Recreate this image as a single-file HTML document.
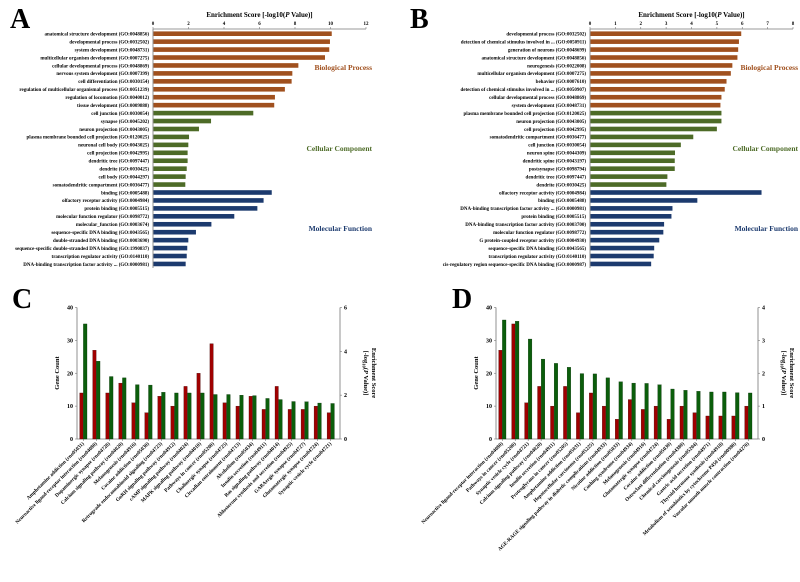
<!DOCTYPE html>
<html><head><meta charset="utf-8"><style>
body{margin:0;background:#fff}
svg text{font-family:"Liberation Serif",serif;font-weight:bold}
</style></head><body>
<svg id="fig" width="800" height="577" xmlns="http://www.w3.org/2000/svg">
<text x="10" y="28" font-size="28">A</text>
<text x="410" y="28" font-size="28">B</text>
<text x="12" y="308" font-size="28">C</text>
<text x="452" y="308" font-size="28">D</text>
</svg>
<script>
const aLabels=["anatomical structure development (GO:0048856)","developmental process (GO:0032502)","system development (GO:0048731)","multicellular organism development (GO:0007275)","cellular developmental process (GO:0048869)","nervous system development (GO:0007399)","cell differentiation (GO:0030154)","regulation of multicellular organismal process (GO:0051239)","regulation of locomotion (GO:0040012)","tissue development (GO:0009888)","cell junction (GO:0030054)","synapse (GO:0045202)","neuron projection (GO:0043005)","plasma membrane bounded cell projection (GO:0120025)","neuronal cell body (GO:0043025)","cell projection (GO:0042995)","dendritic tree (GO:0097447)","dendrite (GO:0030425)","cell body (GO:0044297)","somatodendritic compartment (GO:0036477)","binding (GO:0005488)","olfactory receptor activity (GO:0004984)","protein binding (GO:0005515)","molecular function regulator (GO:0098772)","molecular_function (GO:0003674)","sequence-specific DNA binding (GO:0043565)","double-stranded DNA binding (GO:0003690)","sequence-specific double-stranded DNA binding (GO:1990837)","transcription regulator activity (GO:0140110)","DNA-binding transcription factor activity ... (GO:0000981)"];
const aValues=[10.07,9.97,9.93,9.69,8.19,7.85,7.81,7.43,6.87,6.83,5.65,3.27,2.59,2.03,1.99,1.95,1.95,1.9,1.84,1.82,6.69,6.23,5.88,4.58,3.29,2.42,1.99,1.93,1.9,1.84];
const aTicks=[0,2,4,6,8,10,12];
const bLabels=["developmental process (GO:0032502)","detection of chemical stimulus involved in ... (GO:0050911)","generation of neurons (GO:0048699)","anatomical structure development (GO:0048856)","neurogenesis (GO:0022008)","multicellular organism development (GO:0007275)","behavior (GO:0007610)","detection of chemical stimulus involved in ... (GO:0050907)","cellular developmental process (GO:0048869)","system development (GO:0048731)","plasma membrane bounded cell projection (GO:0120025)","neuron projection (GO:0043005)","cell projection (GO:0042995)","somatodendritic compartment (GO:0036477)","cell junction (GO:0030054)","neuron spine (GO:0044309)","dendritic spine (GO:0043197)","postsynapse (GO:0098794)","dendritic tree (GO:0097447)","dendrite (GO:0030425)","olfactory receptor activity (GO:0004984)","binding (GO:0005488)","DNA-binding transcription factor activity ... (GO:0000981)","protein binding (GO:0005515)","DNA-binding transcription factor activity (GO:0003700)","molecular function regulator (GO:0098772)","G protein-coupled receptor activity (GO:0004930)","sequence-specific DNA binding (GO:0043565)","transcription regulator activity (GO:0140110)","cis-regulatory region sequence-specific DNA binding (GO:0000987)"];
const bValues=[5.96,5.87,5.84,5.81,5.61,5.55,5.38,5.31,5.18,5.14,5.18,5.18,5.0,4.07,3.58,3.35,3.34,3.34,3.05,3.01,6.76,4.23,3.25,3.21,2.92,2.89,2.73,2.53,2.51,2.41];
const bTicks=[0,1,2,3,4,5,6,7,8];
const cLabels=["Amphetamine addiction (rno05031)","Neuroactive ligand-receptor interaction (rno04080)","Dopaminergic synapse (rno04728)","Calcium signaling pathway (rno04020)","Melanogenesis (rno04916)","Cocaine addiction (rno05030)","Retrograde endocannabinoid signaling (rno04723)","GnRH signaling pathway (rno04912)","cAMP signaling pathway (rno04024)","MAPK signaling pathway (rno04010)","Pathways in cancer (rno05200)","Cholinergic synapse (rno04725)","Circadian entrainment (rno04713)","Alcoholism (rno05034)","Insulin secretion (rno04911)","Ras signaling pathway (rno04014)","Aldosterone synthesis and secretion (rno04925)","GABAergic synapse (rno04727)","Glutamatergic synapse (rno04724)","Synaptic vesicle cycle (rno04721)"];
const cCounts=[14,27,14,17,11,8,13,10,16,20,29,11,10,13,9,16,9,9,10,8];
const cScores=[5.25,3.55,2.85,2.79,2.48,2.46,2.13,2.1,2.1,2.1,2.03,2.03,2.0,1.98,1.85,1.8,1.71,1.7,1.64,1.62];
const cLeftTicks=[0,10,20,30,40];
const cRightTicks=[0,2,4,6];
const dLabels=["Neuroactive ligand-receptor interaction (rno04080)","Pathways in cancer (rno05200)","Synaptic vesicle cycle (rno04721)","Calcium signaling pathway (rno04020)","Insulin secretion (rno04911)","Proteoglycans in cancer (rno05205)","Amphetamine addiction (rno05031)","Hepatocellular carcinoma (rno05225)","AGE-RAGE signaling pathway in diabetic complications (rno04933)","Nicotine addiction (rno05033)","Cushing syndrome (rno04934)","Melanogenesis (rno04916)","Glutamatergic synapse (rno04724)","Cocaine addiction (rno05030)","Osteoclast differentiation (rno04380)","Chemical carcinogenesis (rno05204)","Gastric acid secretion (rno04971)","Thyroid hormone synthesis (rno04918)","Metabolism of xenobiotics by cytochrome P450 (rno00980)","Vascular smooth muscle contraction (rno04270)"];
const dCounts=[27,35,11,16,10,16,8,14,10,6,12,9,10,6,10,8,7,7,7,10];
const dScores=[3.62,3.58,3.04,2.43,2.3,2.18,1.99,1.98,1.86,1.74,1.7,1.69,1.65,1.52,1.48,1.45,1.43,1.43,1.41,1.4];
const dLeftTicks=[0,10,20,30,40];
const dRightTicks=[0,1,2,3,4];

const svg=document.getElementById('fig');
const NS='http://www.w3.org/2000/svg';
function mk(tag,attrs,txt){const e=document.createElementNS(NS,tag);for(const k in attrs)e.setAttribute(k,attrs[k]);if(txt!==undefined)e.textContent=txt;svg.appendChild(e);return e;}
const COLS=['#a0501e','#4d6b27','#1c3a6e'];

function hbar(x0,x1,max,ticks,labels,values,pfx,groupX){
  const sx=v=>x0+(x1-x0)*v/max;
  const y0=33.7,step=7.94;
  let ax=mk('line',{x1:x0,y1:29,x2:x1,y2:29,stroke:'#777','stroke-width':0.8});
  
  
  let ay=mk('line',{x1:x0,y1:29,x2:x0,y2:268,stroke:'#777','stroke-width':0.8});
  
  
  ticks.forEach(t=>{
    mk('line',{x1:sx(t),y1:27,x2:sx(t),y2:29,stroke:'#777','stroke-width':0.6});
    let tl=mk('text',{x:sx(t),y:25,'font-size':5,'text-anchor':'middle'},t);
    
    
  });
  let tt=mk('text',{x:(x0+x1)/2,y:17,'font-size':7,'text-anchor':'middle'});
  tt.innerHTML='Enrichment Score [-log10(<tspan font-style="italic">P</tspan> Value)]';
  
  
  values.forEach((v,i)=>{
    const y=y0+i*step;
    const r=mk('rect',{x:x0+0.5,y:y-2.3,width:sx(v)-x0-0.5,height:4.6,fill:COLS[Math.floor(i/10)]});
    
    
    const l=mk('text',{x:x0-4,y:y+1.8,'font-size':5,'text-anchor':'end'},labels[i]);
    
    
  });
  const g=['Biological Process','Cellular Component','Molecular Function'];
  [70,151,231].forEach((y,k)=>{
    const t=mk('text',{x:groupX,y:y,'font-size':7.5,'text-anchor':'end',fill:COLS[k]},g[k]);
    
    
  });
}
hbar(153,366,12,aTicks,aLabels,aValues,'panel-a',372);
hbar(590,793,8,bTicks,bLabels,bValues,'panel-b',798);

function vbar(xl,xr,t0,t1,rmax,labels,counts,scores,lt,rt,pfx,ltitleX,rtitleX){
  const yb=439,yt=307.5;
  const sy=v=>yb-(yb-yt)*v/40;
  const sr=v=>yb-(yb-yt)*v/rmax;
  const n=labels.length,step=(t1-t0)/(n-1);
  const cx=i=>t0+i*step;
  [[xl,'left'],[xr,'right']].forEach(([x,s])=>{
    const a=mk('line',{x1:x,y1:yt,x2:x,y2:yb,stroke:'#777','stroke-width':0.8});
    
    
  });
  const b=mk('line',{x1:xl,y1:yb,x2:xr,y2:yb,stroke:'#777','stroke-width':0.8});
  
  
  lt.forEach(t=>{mk('line',{x1:xl-2,y1:sy(t),x2:xl,y2:sy(t),stroke:'#777','stroke-width':0.6});
    const e=mk('text',{x:xl-4,y:sy(t)+2,'font-size':6,'text-anchor':'end'},t);
    
    });
  rt.forEach(t=>{mk('line',{x1:xr,y1:sr(t),x2:xr+2,y2:sr(t),stroke:'#777','stroke-width':0.6});
    const e=mk('text',{x:xr+4,y:sr(t)+2,'font-size':6},t);
    
    });
  const lt2=mk('text',{x:ltitleX,y:373,'font-size':6.5,'text-anchor':'middle',transform:`rotate(-90 ${ltitleX} 373)`},'Gene Count');
  
  
  const r1=mk('text',{x:rtitleX,y:373,'font-size':6.5,'text-anchor':'middle',transform:`rotate(90 ${rtitleX} 373)`},'Enrichment Score');
  
  
  const r2=mk('text',{x:rtitleX-8,y:373,'font-size':6.5,'text-anchor':'middle',transform:`rotate(90 ${rtitleX-8} 373)`});
  r2.innerHTML='[-log<tspan font-size="4.5" dy="1.5">10</tspan><tspan dy="-1.5">(</tspan><tspan font-style="italic">P</tspan> Value)]';
  
  
  for(let i=0;i<n;i++){
    const x=cx(i);
    mk('line',{x1:x,y1:yb,x2:x,y2:yb+2,stroke:'#777','stroke-width':0.6});
    const rr=mk('rect',{x:x-3.6,y:sy(counts[i]),width:3.4,height:yb-sy(counts[i]),fill:'#a00000',stroke:'#3a0000','stroke-width':0.3});
    
    
    const gg=mk('rect',{x:x+0.1,y:sr(scores[i]),width:3.6,height:yb-sr(scores[i]),fill:'#0b5e0b',stroke:'#032a03','stroke-width':0.3});
    
    
    const tx=mk('text',{x:x+1,y:yb+5,'font-size':5.2,'font-weight':'normal','text-anchor':'end',transform:`rotate(-45 ${x+1} ${yb+5})`},labels[i]);
    tx.setAttribute('font-weight','normal');
    
    
  }
}
vbar(77,340,83.3,330.7,6,cLabels,cCounts,cScores,cLeftTicks,cRightTicks,'panel-c',59,372);
vbar(496,758,502.3,748.3,4,dLabels,dCounts,dScores,dLeftTicks,dRightTicks,'panel-d',478,790);
</script>
</body></html>
